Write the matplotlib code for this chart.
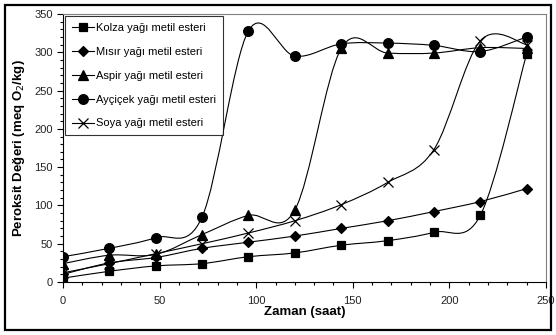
import matplotlib.pyplot as plt
from matplotlib.path import Path
from matplotlib.patches import PathPatch, Rectangle
from matplotlib.lines import Line2D
from matplotlib.ticker import MultipleLocator

plt.rcParams['font.family'] = ['Liberation Sans', 'DejaVu Sans']

# sampling times (saat)
zaman = [0, 24, 48, 72, 96, 120, 144, 168, 192, 216, 240]

# peroxide values (meq O2/kg)
kolza = [5, 14, 21, 24, 33, 38, 48, 54, 65, 87, 298]
misir = [10, 25, 32, 44, 52, 60, 70, 80, 92, 105, 122]
aspir = [24, 35, 36, 62, 87, 94, 305, 299, 299, 306, 305]
aycicek = [33, 44, 58, 85, 328, 295, 311, 312, 309, 301, 320]
soya = [12, 24, 37, 50, 64, 80, 101, 130, 173, 315, 310]

labels = ["Kolza yağı metil esteri", "Mısır yağı metil esteri",
          "Aspir yağı metil esteri", "Ayçiçek yağı metil esteri",
          "Soya yağı metil esteri"]


# smooth line like a spreadsheet "smoothed line" (bezier through the points)
def smooth_path(x, y):
    pts = list(zip(x, y))
    n = len(pts)
    verts = [pts[0]]
    codes = [Path.MOVETO]
    for i in range(n - 1):
        p0 = pts[i - 1] if i > 0 else pts[i]
        p1 = pts[i]
        p2 = pts[i + 1]
        p3 = pts[i + 2] if i + 2 < n else pts[i + 1]
        c1 = (p1[0] + (p2[0] - p0[0]) / 6, p1[1] + (p2[1] - p0[1]) / 6)
        c2 = (p2[0] - (p3[0] - p1[0]) / 6, p2[1] - (p3[1] - p1[1]) / 6)
        verts += [c1, c2, p2]
        codes += [Path.CURVE4] * 3
    return Path(verts, codes)


fig = plt.figure(figsize=(5.56, 3.35), dpi=100)
ax = fig.add_axes([63 / 556, 1 - 282 / 335, (546 - 63) / 556, (282 - 14) / 335])

series = [(kolza, 's', 6), (misir, 'D', 4.8), (aspir, '^', 6.5),
          (aycicek, 'o', 7), (soya, 'x', 6.5)]

handles = []
for (vals, mk, ms), lab in zip(series, labels):
    ax.add_patch(PathPatch(smooth_path(zaman, vals), facecolor='none',
                           edgecolor='black', lw=0.8, zorder=2))
    ax.plot(zaman, vals, linestyle='none', marker=mk, ms=ms, color='black',
            mew=0.9, zorder=3)
    handles.append(Line2D([], [], color='black', lw=0.8, marker=mk, ms=ms,
                          mew=0.9, label=lab))

ax.set_xlim(0, 250)
ax.set_ylim(0, 350)
ax.xaxis.set_major_locator(MultipleLocator(50))
ax.xaxis.set_minor_locator(MultipleLocator(10))
ax.yaxis.set_major_locator(MultipleLocator(50))
ax.yaxis.set_minor_locator(MultipleLocator(10))
ax.tick_params(which='both', direction='out', labelsize=8, width=0.8,
               colors='black', labelcolor='#222222')
ax.tick_params(which='major', length=4)
ax.tick_params(which='minor', length=2.5)
ax.tick_params(axis='x', pad=6)
for s in ax.spines.values():
    s.set_linewidth(0.8)
ax.spines['right'].set_color('#808080')
ax.spines['top'].set_color('#808080')

ax.set_xlabel("Zaman (saat)", fontsize=9.5, fontweight='bold', labelpad=0)
ax.set_ylabel("Peroksit Değeri (meq O$_2$/kg)", fontsize=9.5,
              fontweight='bold', labelpad=5)

leg = ax.legend(handles=handles, loc='upper left', fontsize=8,
                frameon=True, fancybox=False, edgecolor='black',
                borderaxespad=0.2, handlelength=2.0, handletextpad=0.2,
                labelspacing=1.25, borderpad=0.6)
leg.get_frame().set_linewidth(0.8)

# outer chart border
fig.patches.append(Rectangle((5 / 556, 5 / 335), 546 / 556, 325 / 335,
                             transform=fig.transFigure, fill=False,
                             edgecolor='black', lw=1.6))

fig.savefig("out.png", dpi=100)
